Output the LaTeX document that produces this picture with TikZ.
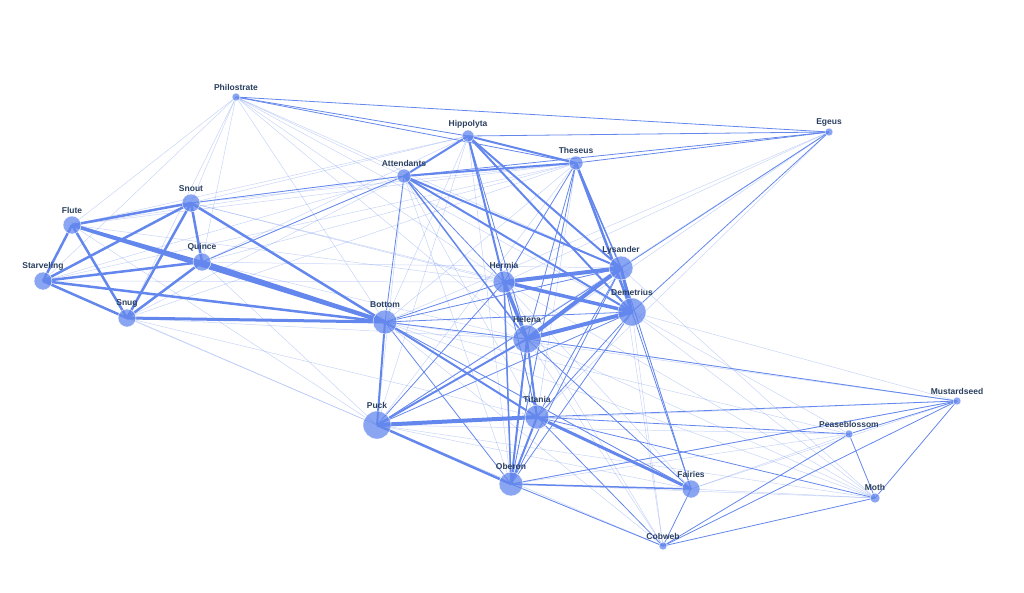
\documentclass[tikz,border=0pt]{standalone}
\usepackage{fontspec}
\setmainfont{Liberation Sans}
\begin{document}
\begin{tikzpicture}[x=1pt,y=-1pt,
  ed/.style={draw=edgeblue,line width=#1},
  lt/.style={draw=edgeblue,line width=0.5,opacity=0.35},
  nd/.style={circle,fill=nodeblue,fill opacity=0.75,draw=white,line width=0.4,inner sep=0,minimum size=#1},
  lb/.style={font=\bfseries\fontsize{8.5}{10}\selectfont,text=labelc,above,inner sep=1}]
\definecolor{edgeblue}{RGB}{99,135,236}
\definecolor{nodeblue}{RGB}{99,135,236}
\definecolor{labelc}{RGB}{42,63,95}
\useasboundingbox (0,0) rectangle (1024,592);
\foreach \n/\x/\y/\r in {Philostrate/236/97/8,Hippolyta/468/136/12,Egeus/829/132/8,Theseus/576/163/14,Attendants/404/176/14,Snout/191/203/18,Flute/72/225/18,Quince/202/262/18,Starveling/43/281/18,Snug/127/318/18,Bottom/385/322/24,Hermia/504/282/22,Lysander/621/268/24,Demetrius/632/312/28,Helena/527/339/28,Mustardseed/957/401/8,Puck/377/425/28,Titania/537/417/24,Peaseblossom/849/434/8,Oberon/511/484/24,Fairies/691/489/18,Moth/875/498/10,Cobweb/663/546/8}
  \coordinate (\n) at (\x,\y);
% light edges
\foreach \a/\b in {Philostrate/Snout,Philostrate/Flute,Philostrate/Quince,Philostrate/Starveling,Philostrate/Snug,Philostrate/Bottom,Philostrate/Hermia,Philostrate/Lysander,Philostrate/Demetrius,Philostrate/Helena,Philostrate/Attendants,
 Flute/Attendants,Flute/Hippolyta,Flute/Theseus,Snout/Attendants,Snout/Hippolyta,Snout/Theseus,Quince/Attendants,Quince/Theseus,Quince/Hippolyta,Starveling/Theseus,Starveling/Attendants,Snug/Attendants,Snug/Theseus,
 Flute/Hermia,Snout/Hermia,Quince/Helena,Quince/Lysander,Snout/Demetrius,Starveling/Hermia,Snug/Helena,Snug/Puck,Starveling/Puck,Flute/Puck,Quince/Puck,Snug/Titania,Starveling/Helena,
 Bottom/Egeus,Hermia/Egeus,Helena/Egeus,Puck/Egeus,Titania/Egeus,
 Bottom/Mustardseed,Bottom/Peaseblossom,Bottom/Moth,Bottom/Cobweb,Bottom/Fairies,Puck/Mustardseed,Puck/Peaseblossom,Puck/Moth,Puck/Cobweb,Puck/Fairies,
 Helena/Mustardseed,Helena/Moth,Helena/Cobweb,Helena/Fairies,Hermia/Fairies,Hermia/Cobweb,Hermia/Moth,Lysander/Moth,Lysander/Cobweb,Lysander/Fairies,Demetrius/Mustardseed,Demetrius/Moth,Demetrius/Cobweb,Demetrius/Peaseblossom,
 Oberon/Peaseblossom,Oberon/Mustardseed,Oberon/Moth,Oberon/Cobweb,Fairies/Peaseblossom,Fairies/Moth,Fairies/Mustardseed,
 Attendants/Titania,Attendants/Oberon,Attendants/Puck,Hippolyta/Puck,Hippolyta/Titania,Theseus/Puck,Theseus/Titania,Theseus/Oberon,Hippolyta/Oberon,Theseus/Bottom,Hippolyta/Bottom}
  \draw[lt] (\a)--(\b);
% medium edges
\foreach \a/\b in {Philostrate/Hippolyta,Philostrate/Theseus,Philostrate/Egeus,Hippolyta/Egeus,Theseus/Egeus,Attendants/Egeus,Lysander/Egeus,Demetrius/Egeus,
 Attendants/Bottom,Attendants/Hermia,Hippolyta/Helena,Theseus/Hermia,Theseus/Helena,Theseus/Oberon,Attendants/Quince,Snout/Attendants,
 Bottom/Hermia,Bottom/Helena,Bottom/Lysander,Bottom/Demetrius,Bottom/Oberon,Bottom/Titania,Bottom/Fairies,
 Puck/Hermia,Puck/Lysander,Puck/Demetrius,Hermia/Titania,Hermia/Oberon,Lysander/Titania,Lysander/Oberon,Demetrius/Titania,Demetrius/Oberon,Helena/Fairies,Demetrius/Fairies,Lysander/Fairies,
 Titania/Mustardseed,Titania/Peaseblossom,Titania/Moth,Titania/Cobweb,Peaseblossom/Moth,Mustardseed/Moth,Mustardseed/Cobweb,Moth/Cobweb,Peaseblossom/Cobweb,Mustardseed/Peaseblossom,Oberon/Cobweb,Oberon/Mustardseed,Helena/Mustardseed,Fairies/Cobweb}
  \draw[ed=0.8] (\a)--(\b);
% thick edges
\foreach \a/\b/\w in {Flute/Snout/2.5,Flute/Quince/2.5,Flute/Starveling/2.5,Flute/Snug/2.5,Flute/Bottom/3.5,Snout/Quince/2.5,Snout/Starveling/2.5,Snout/Snug/2.5,Snout/Bottom/2.5,Quince/Starveling/2.5,Quince/Snug/2.5,Quince/Bottom/4,Starveling/Snug/2.5,Starveling/Bottom/2.5,Snug/Bottom/3,
 Hippolyta/Theseus/2,Hippolyta/Attendants/2,Theseus/Attendants/2,Hippolyta/Hermia/2,Hippolyta/Lysander/2,Hippolyta/Demetrius/2,Theseus/Lysander/1.5,Theseus/Demetrius/2.5,Attendants/Lysander/2,Attendants/Demetrius/2,Attendants/Helena/1.5,
 Hermia/Lysander/4,Hermia/Demetrius/3.5,Hermia/Helena/3.5,Lysander/Helena/4,Demetrius/Helena/4,Lysander/Demetrius/3,
 Puck/Titania/4,Puck/Oberon/2.5,Puck/Bottom/2,Puck/Helena/2,Titania/Oberon/2,Titania/Fairies/3,Titania/Bottom/2,Titania/Helena/2,Oberon/Helena/2,Oberon/Fairies/1.5,Hermia/Oberon/1.5}
  \draw[ed=\w] (\a)--(\b);
\foreach \n/\x/\y/\r in {Philostrate/236/97/8,Hippolyta/468/136/12,Egeus/829/132/8,Theseus/576/163/14,Attendants/404/176/14,Snout/191/203/18,Flute/72/225/18,Quince/202/262/18,Starveling/43/281/18,Snug/127/318/18,Bottom/385/322/24,Hermia/504/282/22,Lysander/621/268/24,Demetrius/632/312/28,Helena/527/339/28,Mustardseed/957/401/8,Puck/377/425/28,Titania/537/417/24,Peaseblossom/849/434/8,Oberon/511/484/24,Fairies/691/489/18,Moth/875/498/10,Cobweb/663/546/8}
  \node[nd=\r] (n\n) at (\n) {};
\foreach \n/\x/\y/\r in {Philostrate/236/97/8,Hippolyta/468/136/12,Egeus/829/132/8,Theseus/576/163/14,Attendants/404/176/14,Snout/191/203/18,Flute/72/225/18,Quince/202/262/18,Starveling/43/281/18,Snug/127/318/18,Bottom/385/322/24,Hermia/504/282/22,Lysander/621/268/24,Demetrius/632/312/28,Helena/527/339/28,Mustardseed/957/401/8,Puck/377/425/28,Titania/537/417/24,Peaseblossom/849/434/8,Oberon/511/484/24,Fairies/691/489/18,Moth/875/498/10,Cobweb/663/546/8}
  \node[lb] (l\n) at (\x,\y-\r/2-1) {\n};
\end{tikzpicture}
\end{document}
